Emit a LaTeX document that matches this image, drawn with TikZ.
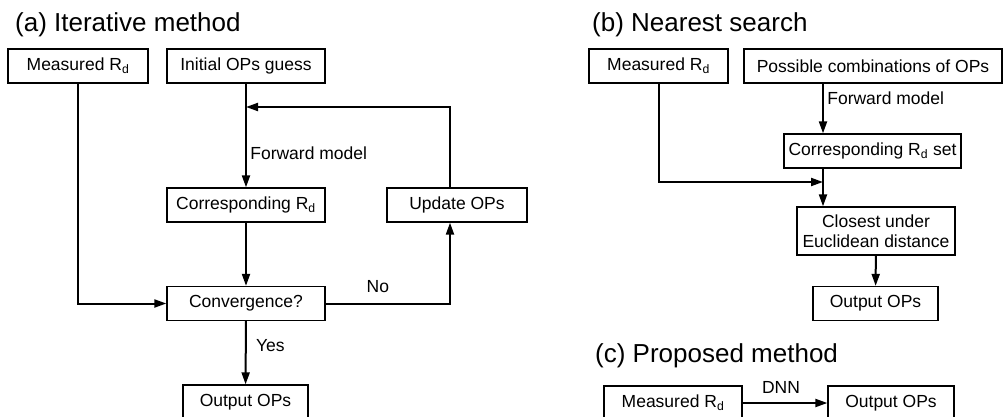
\documentclass[tikz,border=0pt]{standalone}
\usepackage{fontspec}
\setmainfont{Liberation Sans}
\usetikzlibrary{arrows.meta}
\newcommand{\Rd}{R\textsubscript{d}}

\begin{document}
\begin{tikzpicture}[x=1pt,y=-1pt,
	box/.style={draw, line width=1.3pt, minimum height=34pt, inner sep=0pt, font=\fontsize{17.5}{20}\selectfont},
	flow/.style={line width=2pt, -{Triangle[length=12pt,width=8pt]}},
	lbl/.style={font=\fontsize{17.5}{20}\selectfont},
	ttl/.style={font=\fontsize{26}{30}\selectfont, anchor=base west, inner sep=0pt}]
	\useasboundingbox (0,0) rectangle (1003,417);
	\clip (0,0) rectangle (1003,417);
	% (a) iterative
	\node[ttl] (ta) at (15,32) {(a) Iterative method};
	\node[box, minimum width=140pt] (ma) at (78,66) {Measured \Rd};
	\node[box, minimum width=158pt] (init) at (246,66) {Initial OPs guess};
	\node[box, minimum width=158pt] (corra) at (246,205) {Corresponding \Rd};
	\node[box, minimum width=140pt] (upd) at (457,205) {Update OPs};
	\node[box, minimum width=158pt] (conv) at (246,303.5) {Convergence?};
	\node[box, minimum width=125pt] (outa) at (245.5,402) {Output OPs};
	\coordinate (fb) at (246,107);
	\draw[flow] (init) -- (corra) node[pos=0.67, right, lbl] {Forward model};
	\draw[flow] ([xshift=-7pt]upd.north) |- (fb);
	\draw[flow] (corra) -- (conv);
	\draw[flow] (ma) |- (conv);
	\draw[flow] (conv) -| ([xshift=-7pt]upd.south) node[pos=0.21, above=6pt, lbl] {No};
	\draw[flow] (conv) -- (outa) node[pos=0.38, right=6pt, lbl] {Yes};
	% (b) nearest search
	\node[ttl] (tb) at (592,32) {(b) Nearest search};
	\node[box, minimum width=139pt] (mb) at (658.5,66) {Measured \Rd};
	\node[box, minimum width=258pt] (poss) at (873,66) {Possible combinations of OPs};
	\node[box, minimum width=177pt] (corrb) at (872.5,151) {Corresponding \Rd\ set};
	\node[box, minimum width=158pt, minimum height=48pt, align=center] (close) at (876,231) {Closest under\\Euclidean distance};
	\node[box, minimum width=125pt] (outb) at (875.5,303.5) {Output OPs};
	\coordinate (jb) at (823,182);
	\draw[flow] (poss.south -| jb) -- (corrb.north -| jb) node[pos=0.3, right, lbl] {Forward model};
	\draw[line width=2pt] (corrb.south -| jb) -- (jb);
	\draw[flow] (jb) -- (close.north -| jb);
	\draw[flow] (mb) |- (jb);
	\draw[flow] (close) -- (outb);
	% (c) proposed
	\node[ttl] (tc) at (595,362) {(c) Proposed method};
	\node[box, minimum width=138pt] (mc) at (673,403) {Measured \Rd};
	\node[box, minimum width=126pt] (outc) at (891,403) {Output OPs};
	\draw[flow] (mc) -- (outc) node[midway, above=5pt, xshift=-4pt, lbl] {DNN};
\end{tikzpicture}
\end{document}
